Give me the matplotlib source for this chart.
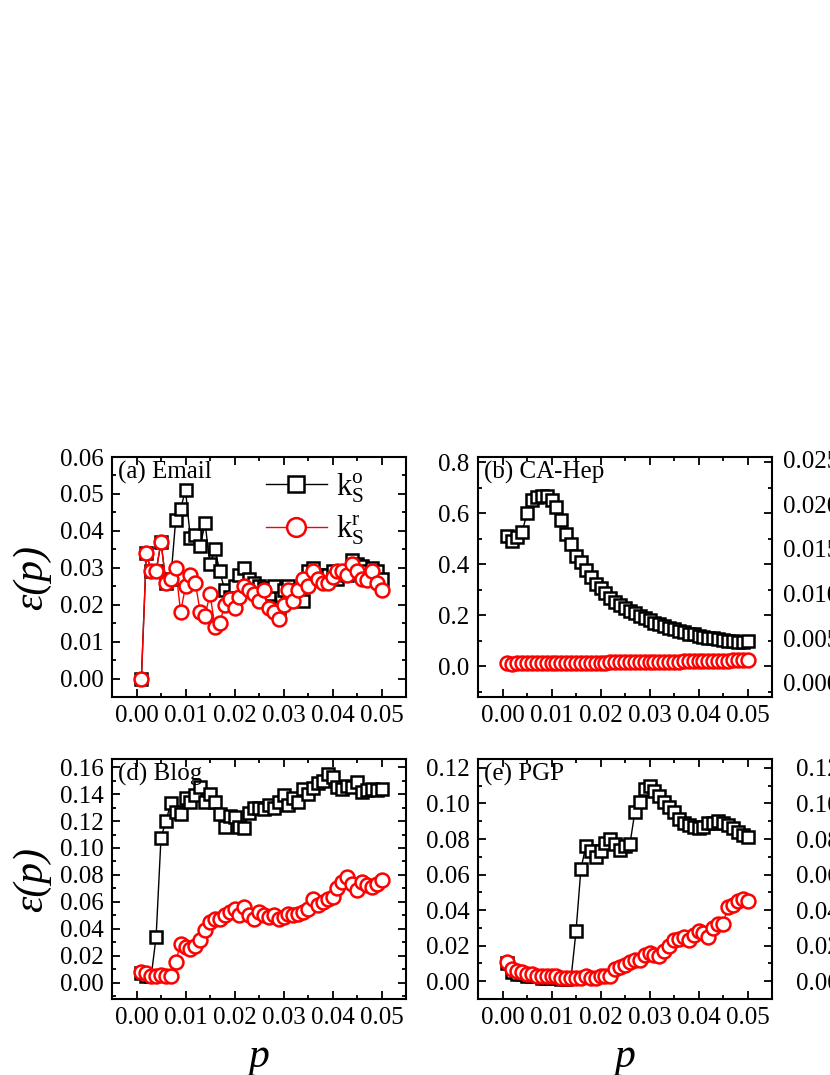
import numpy as np
import matplotlib
matplotlib.use("Agg")
import matplotlib.pyplot as plt
from matplotlib.ticker import AutoMinorLocator, FormatStrFormatter, MultipleLocator

plt.rcParams["font.family"] = ["Liberation Serif", "DejaVu Serif"]
plt.rcParams["mathtext.fontset"] = "custom"
plt.rcParams["mathtext.rm"] = "Liberation Serif"
plt.rcParams["mathtext.it"] = "Liberation Serif:italic"

# removal fraction p (50 steps)
p = np.linspace(0.001, 0.050, 50)

# (a) Email
email_o = [0.0, 0.034, 0.029, 0.029, 0.037, 0.026, 0.027, 0.043, 0.046, 0.051,
           0.038, 0.039, 0.036, 0.042, 0.031, 0.035, 0.029, 0.024, 0.022, 0.025,
           0.028, 0.030, 0.027, 0.026, 0.025, 0.0245, 0.023, 0.025, 0.019, 0.024,
           0.025, 0.022, 0.024, 0.021, 0.029, 0.030, 0.028, 0.027, 0.028, 0.029,
           0.027, 0.029, 0.028, 0.032, 0.031, 0.0305, 0.029, 0.030, 0.029, 0.027]
email_r = [0.0, 0.034, 0.029, 0.029, 0.037, 0.026, 0.027, 0.030, 0.018, 0.025,
           0.028, 0.026, 0.018, 0.017, 0.023, 0.014, 0.015, 0.020, 0.0215, 0.019,
           0.022, 0.025, 0.024, 0.023, 0.021, 0.024, 0.019, 0.018, 0.016, 0.020,
           0.024, 0.021, 0.024, 0.027, 0.025, 0.029, 0.027, 0.026, 0.026, 0.0275,
           0.029, 0.029, 0.028, 0.031, 0.029, 0.027, 0.0266, 0.029, 0.026, 0.024]

# (b) CA-Hep
cahep_o = [0.51, 0.49, 0.508, 0.526, 0.60, 0.651, 0.664, 0.667, 0.667, 0.651,
           0.626, 0.572, 0.517, 0.478, 0.433, 0.408, 0.376, 0.350, 0.324, 0.305,
           0.286, 0.267, 0.254, 0.241, 0.228, 0.218, 0.209, 0.196, 0.190, 0.180,
           0.170, 0.164, 0.158, 0.151, 0.145, 0.138, 0.135, 0.128, 0.126, 0.119,
           0.115, 0.113, 0.110, 0.106, 0.104, 0.100, 0.100, 0.097, 0.097, 0.100]
cahep_r = [0.015, 0.008, 0.012, 0.012, 0.013, 0.013, 0.013, 0.012, 0.013, 0.013,
           0.014, 0.013, 0.014, 0.014, 0.014, 0.014, 0.015, 0.015, 0.015, 0.015,
           0.015, 0.016, 0.016, 0.016, 0.016, 0.016, 0.017, 0.017, 0.017, 0.017,
           0.018, 0.018, 0.018, 0.019, 0.019, 0.019, 0.020, 0.020, 0.020, 0.021,
           0.021, 0.021, 0.022, 0.022, 0.022, 0.022, 0.023, 0.023, 0.023, 0.024]

# (d) Blog
blog_o = [0.007, 0.005, 0.005, 0.034, 0.1075, 0.120, 0.133, 0.127, 0.1255, 0.137,
          0.134, 0.1395, 0.145, 0.134, 0.140, 0.134, 0.125, 0.1156, 0.124, 0.123,
          0.1156, 0.115, 0.126, 0.130, 0.130, 0.129, 0.132, 0.130, 0.134, 0.139,
          0.132, 0.137, 0.134, 0.1435, 0.140, 0.1445, 0.148, 0.150, 0.155, 0.153,
          0.145, 0.144, 0.146, 0.145, 0.149, 0.1415, 0.143, 0.144, 0.143, 0.144]
blog_r = [0.008, 0.007, 0.005, 0.005, 0.006, 0.005, 0.005, 0.0156, 0.029, 0.0267,
          0.0254, 0.027, 0.0316, 0.039, 0.045, 0.0477, 0.0477, 0.0506, 0.0526, 0.0546,
          0.050, 0.0563, 0.050, 0.0477, 0.0526, 0.0506, 0.049, 0.050, 0.0477, 0.049,
          0.0514, 0.0506, 0.0514, 0.0526, 0.055, 0.0625, 0.0575, 0.060, 0.0625, 0.0637,
          0.070, 0.0748, 0.0785, 0.0736, 0.0687, 0.0748, 0.0724, 0.0711, 0.0736, 0.076]

# (e) PGP
pgp_o = [0.010, 0.005, 0.004, 0.004, 0.003, 0.003, 0.003, 0.002, 0.002, 0.002,
         0.002, 0.001, 0.001, 0.002, 0.028, 0.063, 0.076, 0.073, 0.070, 0.073,
         0.078, 0.080, 0.077, 0.074, 0.076, 0.077, 0.095, 0.101, 0.108, 0.110,
         0.107, 0.104, 0.101, 0.098, 0.095, 0.091, 0.089, 0.088, 0.087, 0.086,
         0.087, 0.089, 0.089, 0.090, 0.089, 0.088, 0.086, 0.084, 0.082, 0.081]
pgp_r = [0.011, 0.007, 0.006, 0.005, 0.004, 0.004, 0.003, 0.003, 0.003, 0.003,
         0.003, 0.002, 0.002, 0.002, 0.002, 0.002, 0.003, 0.002, 0.002, 0.003,
         0.003, 0.003, 0.007, 0.008, 0.009, 0.011, 0.012, 0.012, 0.015, 0.016,
         0.015, 0.014, 0.017, 0.020, 0.023, 0.024, 0.025, 0.023, 0.026, 0.028,
         0.027, 0.025, 0.030, 0.032, 0.032, 0.042, 0.043, 0.045, 0.046, 0.045]

xticks = [0.00, 0.01, 0.02, 0.03, 0.04, 0.05]


def style_axes(ax, ylim, ystep, yfmt):
    ax.set_xlim(-0.005, 0.055)
    ax.set_xticks(xticks)
    ax.xaxis.set_major_formatter(FormatStrFormatter("%.2f"))
    ax.set_ylim(*ylim)
    ax.yaxis.set_major_locator(MultipleLocator(ystep))
    ax.yaxis.set_major_formatter(FormatStrFormatter(yfmt))
    ax.xaxis.set_minor_locator(AutoMinorLocator(2))
    ax.yaxis.set_minor_locator(AutoMinorLocator(2))
    ax.tick_params(which="both", direction="in", top=True, right=True,
                   width=1.3, labelsize=18)
    ax.tick_params(which="major", length=6, pad=6)
    ax.tick_params(which="minor", length=3)
    for s in ax.spines.values():
        s.set_linewidth(1.5)


def draw(ax, yo, yr, name):
    ax.plot(p, yo, "-s", color="black", lw=1, ms=9, mfc="white", mec="black",
            mew=1.8, label=r"$\mathrm{k_S^o}$")
    ax.plot(p, yr, "-o", color="red", lw=1, ms=10, mfc="white", mec="red",
            mew=1.8, label=r"$\mathrm{k_S^r}$")
    ax.text(0.02, 0.985, name, transform=ax.transAxes, ha="left", va="top",
            fontsize=18)


fig = plt.figure(figsize=(8.3, 10.75), dpi=100)

W = 294 / 830
H = 240 / 1075
row1 = 1 - 697 / 1075
row2 = 1 - 999 / 1075
col1 = 112 / 830
col2 = 478 / 830
col3 = 848 / 830

ax_a = fig.add_axes([col1, row1, W, H])
ax_b = fig.add_axes([col2, row1, W, H])
ax_c = fig.add_axes([col3, row1, W, H])
ax_d = fig.add_axes([col1, row2, W, H])
ax_e = fig.add_axes([col2, row2, W, H])
ax_f = fig.add_axes([col3, row2, W, H])

draw(ax_a, email_o, email_r, "(a) Email")
style_axes(ax_a, (-0.005, 0.06), 0.01, "%.2f")
ax_a.legend(loc="upper right", bbox_to_anchor=(0.93, 1.03), frameon=False,
            fontsize=22, markerscale=1.35, handlelength=2.0, labelspacing=0.3,
            handletextpad=0.3, borderaxespad=0.3)

draw(ax_b, cahep_o, cahep_r, "(b) CA-Hep")
style_axes(ax_b, (-0.12, 0.82), 0.2, "%.1f")

draw(ax_d, blog_o, blog_r, "(d) Blog")
style_axes(ax_d, (-0.012, 0.166), 0.02, "%.2f")

draw(ax_e, pgp_o, pgp_r, "(e) PGP")
style_axes(ax_e, (-0.01, 0.125), 0.02, "%.2f")

# third column lies mostly outside the frame
style_axes(ax_c, (-0.0016, 0.0253), 0.005, "%.3f")
style_axes(ax_f, (-0.01, 0.125), 0.02, "%.2f")
for ax in (ax_c, ax_f):
    ax.tick_params(labelbottom=False)

for ax in (ax_a, ax_d):
    ax.set_ylabel("ε(p)", fontsize=30, fontstyle="italic", labelpad=6)
for ax in (ax_d, ax_e):
    ax.set_xlabel("p", fontsize=30, fontstyle="italic", labelpad=6)

fig.savefig("out.png", dpi=100)
